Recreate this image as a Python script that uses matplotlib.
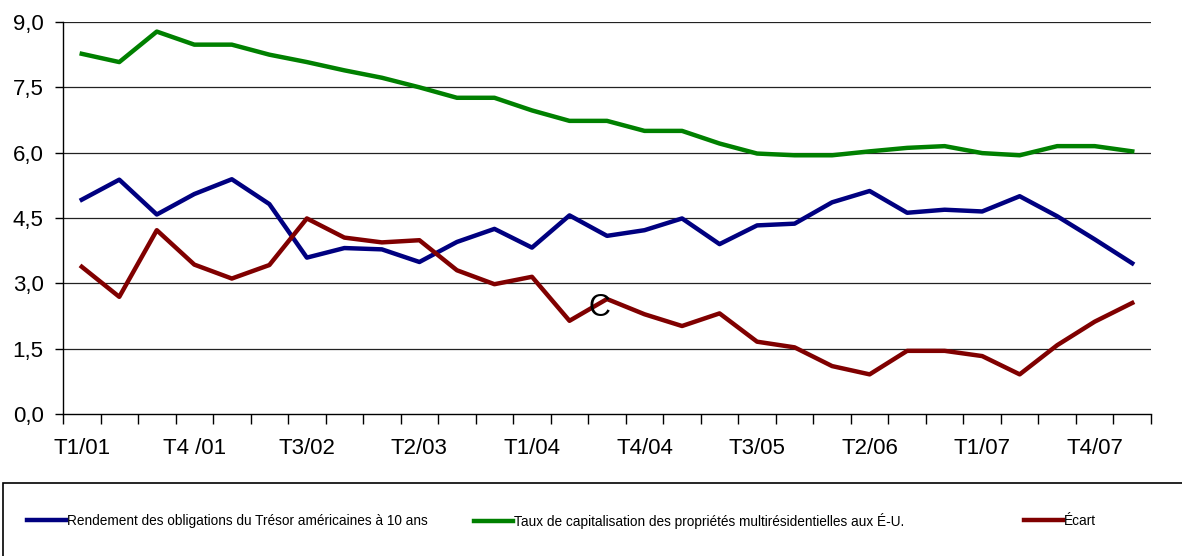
import matplotlib
matplotlib.use("Agg")
import matplotlib.pyplot as plt
from matplotlib.patches import Rectangle

plt.rcParams['font.family'] = ['Liberation Sans', 'DejaVu Sans']

# quarters T1/01 .. T1/08
quarters = ["T1/01", "T2/01", "T3/01", "T4 /01", "T1/02", "T2/02", "T3/02", "T4/02",
            "T1/03", "T2/03", "T3/03", "T4/03", "T1/04", "T2/04", "T3/04", "T4/04",
            "T1/05", "T2/05", "T3/05", "T4/05", "T1/06", "T2/06", "T3/06", "T4/06",
            "T1/07", "T2/07", "T3/07", "T4/07", "T1/08"]
shown_labels = [0, 3, 6, 9, 12, 15, 18, 21, 24, 27]

tresor = [4.92, 5.38, 4.58, 5.05, 5.39, 4.82, 3.59, 3.81, 3.78, 3.49,
          3.95, 4.25, 3.82, 4.56, 4.09, 4.22, 4.49, 3.90, 4.33, 4.37,
          4.86, 5.12, 4.62, 4.69, 4.65, 5.00, 4.54, 4.01, 3.46]
cap_rate = [8.27, 8.08, 8.78, 8.48, 8.48, 8.25, 8.08, 7.89, 7.72, 7.50,
            7.26, 7.26, 6.97, 6.73, 6.73, 6.50, 6.50, 6.21, 5.98, 5.94,
            5.94, 6.03, 6.11, 6.15, 5.99, 5.94, 6.15, 6.15, 6.03]
ecart = [3.38, 2.69, 4.22, 3.43, 3.11, 3.42, 4.49, 4.05, 3.94, 3.99,
         3.30, 2.98, 3.15, 2.14, 2.64, 2.29, 2.02, 2.31, 1.66, 1.53,
         1.10, 0.91, 1.45, 1.45, 1.33, 0.91, 1.58, 2.12, 2.55]

noms = ["Rendement des obligations du Trésor américaines à 10 ans",
        "Taux de capitalisation des propriétés multirésidentielles aux É-U.",
        "Écart"]
couleurs = ["#000080", "#008000", "#800000"]
# where each legend entry starts (fraction of figure width)
legende_x = [27 / 1182, 474 / 1182, 1024 / 1182]

fig = plt.figure(figsize=(11.82, 5.56), dpi=100)
ax = fig.add_axes([63 / 1182, 1 - 414 / 556, (1151 - 63) / 1182, (414 - 22) / 556])

x = list(range(len(quarters)))
lignes = []
for serie, nom, c in zip([tresor, cap_rate, ecart], noms, couleurs):
    l, = ax.plot(x, serie, color=c, lw=3.2, label=nom)
    lignes.append(l)

ax.set_xlim(-0.5, len(quarters) - 0.5)
ax.set_ylim(0, 9)
yt = [0, 1.5, 3.0, 4.5, 6.0, 7.5, 9.0]
ax.set_yticks(yt)
ax.set_yticklabels([f"{v:.1f}".replace(".", ",") for v in yt], fontsize=16)
for v in yt[1:]:
    ax.axhline(v, color="#222222", lw=0.9, zorder=0)

ax.set_xticks(shown_labels)
ax.set_xticklabels([quarters[i] for i in shown_labels], fontsize=16)
ax.set_xticks([i - 0.5 for i in range(len(quarters) + 1)], minor=True)
ax.tick_params(axis='x', which='major', length=0, pad=17)
ax.tick_params(axis='x', which='minor', length=7, width=1, direction='out')
ax.tick_params(axis='y', length=6, width=1, direction='out', pad=8)

for s in ["top", "right"]:
    ax.spines[s].set_visible(False)
ax.spines["left"].set_linewidth(1)
ax.spines["bottom"].set_linewidth(1)

ax.text(13.8, 2.43, "C", fontsize=22, ha="center", va="center", color="black")

# legend box (runs off the page like the original)
fig.add_artist(Rectangle((3 / 1182, -0.05), 1.2, 1 - 483 / 556 + 0.05,
                         transform=fig.transFigure, fill=False, edgecolor="black", lw=1.2))
for l, nom, lx in zip(lignes, noms, legende_x):
    fig.legend([l], [nom], loc="center left", bbox_to_anchor=(lx, 1 - 521 / 556),
               frameon=False, fontsize=9.8, handlelength=2.85, handletextpad=0.08,
               borderpad=0, borderaxespad=0)

fig.savefig("out.png", dpi=100)
